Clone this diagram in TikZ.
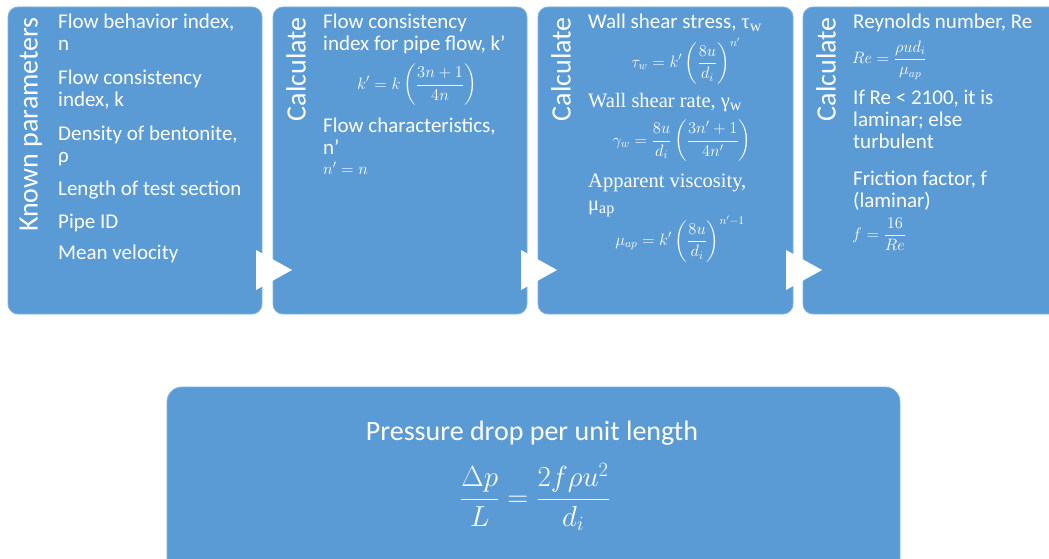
\RequirePackage{fix-cm}
\documentclass[tikz,border=0pt]{standalone}
\usepackage{amsmath}
\usepackage{fontspec}
\setmainfont{Carlito}
\newfontfamily\tnr{Liberation Serif}
\definecolor{boxblue}{HTML}{5B9BD5}
\definecolor{boxedge}{HTML}{7FB1E0}
\newcommand{\lowsub}[1]{\raisebox{-3pt}{\fontsize{16}{16}\selectfont #1}}
\begin{document}
\begin{tikzpicture}[x=1pt,y=-1pt,
  panel/.style={fill=boxblue, draw=boxedge, line width=0.8pt, rounded corners=10pt},
  vlabel/.style={rotate=90, anchor=east, text=white, inner sep=0pt, font=\fontsize{28}{30}\selectfont},
  txt/.style={anchor=base west, text=white, inner sep=0pt, font=\fontsize{21}{22}\selectfont},
  stxt/.style={anchor=base west, text=white, inner sep=0pt, font=\tnr\fontsize{20.5}{22}\selectfont},
  fml/.style={text=white, inner sep=0pt, font=\fontsize{16.5}{18}\selectfont},
  chev/.style={fill=white, draw=none}]
\useasboundingbox (0,0) rectangle (1049,559);
\clip (0,0) rectangle (1049,559);

% panels
\path[panel] (8,7) rectangle (262,314);
\path[panel] (273,7) rectangle (527,314);
\path[panel] (538,7) rectangle (793,314);
\path[panel] (803,7) rectangle (1065,314);
\path[panel,rounded corners=15pt] (167,387) rectangle (900,580);

% chevrons
\coordinate (c1) at (256,250);
\coordinate (c2) at (521,250);
\coordinate (c3) at (786,250);
\foreach \c in {c1,c2,c3}{
  \fill[chev] (\c) -- ++(36,20) -- ++(-36,20) -- cycle;
}

% vertical labels
\node[vlabel] (v1) at (31,17) {Known parameters};
\node[vlabel] (v2) at (296,17) {Calculate};
\node[vlabel] (v3) at (561,17) {Calculate};
\node[vlabel] (v4) at (826,17) {Calculate};

% box 1
\node[txt] (a1) at (58,29) {Flow behavior index,};
\node[txt] (a2) at (58,51) {n};
\node[txt] (a3) at (58,85) {Flow consistency};
\node[txt] (a4) at (58,107) {index, k};
\node[txt] (a5) at (58,140) {Density of bentonite,};
\node[txt] (a6) at (58,162) {ρ};
\node[txt] (a7) at (58,195) {Length of test section};
\node[txt] (a8) at (58,228) {Pipe ID};
\node[txt] (a9) at (58,259) {Mean velocity};

% box 2
\node[txt] (b1) at (323,29) {Flow consistency};
\node[txt] (b2) at (323,51) {index for pipe flow, k’};
\node[fml] (b3) at (417,85) {$\displaystyle k' = k\left(\frac{3n+1}{4n}\right)$};
\node[txt] (b4) at (323,132) {Flow characteristics,};
\node[txt] (b5) at (323,154) {n’};
\node[fml,anchor=base west] (b6) at (323,174) {$n' = n$};

% box 3
\node[txt] (d1) at (588,29) {Wall shear stress, {\tnr τ\lowsub{w}}};
\node[fml] (d2) at (686,61) {$\displaystyle \tau_w = k'\left(\frac{8u}{d_i}\right)^{n'}$};
\node[stxt] (d3) at (588,108) {Wall shear rate, γ\lowsub{w}};
\node[fml] (d4) at (682,141) {$\displaystyle \gamma_w = \frac{8u}{d_i}\left(\frac{3n'+1}{4n'}\right)$};
\node[stxt] (d5) at (588,187) {Apparent viscosity,};
\node[stxt] (d6) at (588,210) {μ\lowsub{ap}};
\node[fml] (d7) at (680,239) {$\displaystyle \mu_{ap} = k'\left(\frac{8u}{d_i}\right)^{n'-1}$};

% box 4
\node[txt] (e1) at (853,29) {Reynolds number, Re};
\node[fml,anchor=west] (e2) at (852,60) {$\displaystyle Re = \frac{\rho u d_i}{\mu_{ap}}$};
\node[txt] (e3) at (853,105) {If Re < 2100, it is};
\node[txt] (e4) at (853,127) {laminar; else};
\node[txt] (e5) at (853,149) {turbulent};
\node[txt] (e6) at (853,185) {Friction factor, f};
\node[txt] (e7) at (853,207) {(laminar)};
\node[fml,anchor=west] (e8) at (852,234) {$\displaystyle f = \frac{16}{Re}$};

% bottom
\node[anchor=base, text=white, inner sep=0pt, font=\fontsize{28}{32}\selectfont] (p1) at (532,440) {Pressure drop per unit length};
\node[text=white, inner sep=0pt, font=\fontsize{29}{34}\selectfont] (p2) at (535,497) {$\displaystyle \frac{\Delta p}{L} = \frac{2f\rho u^2}{d_i}$};
\end{tikzpicture}
\end{document}
